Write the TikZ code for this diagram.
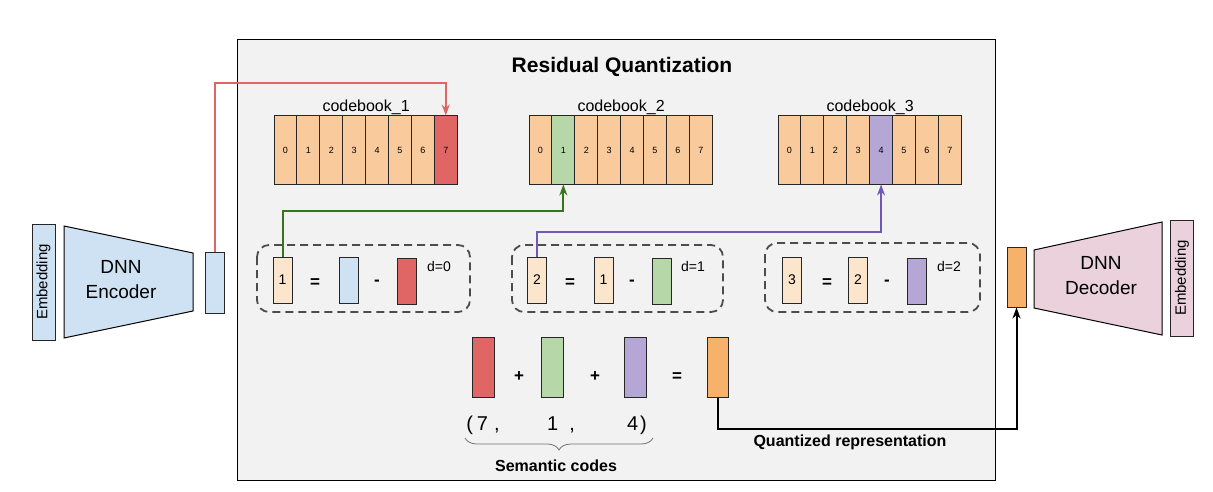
\documentclass[tikz,border=0pt]{standalone}
\usepackage{fontspec}
\setmainfont{Liberation Sans}
\usetikzlibrary{arrows.meta,positioning,calc,decorations.pathreplacing}

\definecolor{cbpeach}{HTML}{F9CB9C}
\definecolor{respeach}{HTML}{FCE5CD}
\definecolor{embblue}{HTML}{CFE2F3}
\definecolor{codered}{HTML}{E06666}
\definecolor{codegreen}{HTML}{B6D7A8}
\definecolor{codepurple}{HTML}{B4A7D6}
\definecolor{qorange}{HTML}{F6B26B}
\definecolor{decpink}{HTML}{EAD1DC}
\definecolor{panelgray}{HTML}{F2F2F2}
\definecolor{redwire}{HTML}{E06666}
\definecolor{greenwire}{HTML}{38761D}
\definecolor{purplewire}{HTML}{7058B8}

\begin{document}
\begin{tikzpicture}[x=1pt,y=-1pt,
    cell/.style={draw=black!85, line width=1pt, fill=cbpeach, minimum width=22.9pt,
        minimum height=68pt, inner sep=0pt, font=\fontsize{9}{9}\selectfont},
    vec/.style={draw=black!85, line width=1pt, minimum width=19pt, minimum height=46pt,
        inner sep=0pt, font=\fontsize{14}{14}\selectfont},
    bigvec/.style={vec, minimum width=22pt, minimum height=60pt},
    sym/.style={inner sep=0pt, font=\fontsize{17}{17}\selectfont\bfseries},
    dlabel/.style={inner sep=0pt, font=\fontsize{14}{14}\selectfont},
    dashbox/.style={draw=black!70, line width=1.8pt, dash pattern=on 8pt off 5pt, rounded corners=12pt},
    embbar/.style={draw=black!85, line width=1pt, minimum width=116pt, minimum height=23pt,
        inner sep=0pt, rotate=90, font=\fontsize{15}{15}\selectfont},
    wire/.style={line width=2pt, -{Stealth[length=11pt,width=8pt]}},
    codes/.style={inner sep=0pt, anchor=base, font=\fontsize{20}{20}\selectfont},
  ]
    \useasboundingbox (0,0) rectangle (1213,492);

    % Quantization panel
    \draw[fill=panelgray, line width=1pt] (237,40) rectangle (995,480);
    \node[font=\fontsize{21}{21}\selectfont\bfseries] (title) at (622,67) {Residual Quantization};

    % Codebooks
    \foreach \k/\x/\hi/\hc in {1/274/7/codered, 2/529/1/codegreen, 3/778/4/codepurple}{
        \foreach \i in {0,...,7}{
            \ifnum\i=\hi \def\cf{\hc}\else\def\cf{cbpeach}\fi
            \node[cell, fill=\cf] (cb\k-\i) at ({\x+11.45+22.9*\i},150) {\i};
        }
        \node[anchor=base, inner sep=0pt, font=\fontsize{16}{16}\selectfont] (cblab\k)
            at ($(cb\k-3.north east)+(0,-4)$) {codebook\_\k};
    }

    % Encoder side
    \node[embbar, fill=embblue] (embin) at (43.5,282) {Embedding};
    \draw[fill=embblue, line width=1pt] (64,226) -- (193,253) -- (193,311) -- (64,338) -- cycle;
    \node[align=center, font=\fontsize{19}{25}\selectfont] (enc) at (121,280) {DNN\\Encoder};
    \node[vec, fill=embblue, minimum height=61pt] (encout) at (214.5,282.5) {};

    % Residuals
    \draw[dashbox] (257,245) rectangle (470,312);
    \node[vec, fill=respeach] (res1) at (282.5,280) {1};
    \node[sym] (eq1) at (315,283) {=};
    \node[vec, fill=embblue] (emb1) at (349,280) {};
    \node[sym] (mi1) at (377,283) {-};
    \node[vec, fill=codered] (sel1) at (407,281) {};
    \node[dlabel] (d0) at (439,266) {d=0};

    \draw[dashbox] (512,245) rectangle (723,312);
    \node[vec, fill=respeach] (res2) at (537,280) {2};
    \node[sym] (eq2) at (570,283) {=};
    \node[vec, fill=respeach] (res1b) at (603.5,280) {1};
    \node[sym] (mi2) at (632,283) {-};
    \node[vec, fill=codegreen] (sel2) at (662,281) {};
    \node[dlabel] (d1) at (693,266) {d=1};

    \draw[dashbox] (765,243) rectangle (980,312);
    \node[vec, fill=respeach] (res3) at (792,280) {3};
    \node[sym] (eq3) at (827,283) {=};
    \node[vec, fill=respeach] (res2b) at (858,280) {2};
    \node[sym] (mi3) at (887,283) {-};
    \node[vec, fill=codepurple] (sel3) at (916.5,281) {};
    \node[dlabel] (d2) at (949,266) {d=2};

    % Lookups
    \draw[wire, redwire] (encout.north) -- ++(0,-168) -| (cb1-7.north);
    \draw[wire, greenwire] (res1.north) -- ++(0,-46) -| (cb2-1.south);
    \draw[wire, purplewire] (res2.north) -- ++(0,-25) -| (cb3-4.south);

    % Sum of codewords
    \node[bigvec, fill=codered] (q1) at (483,367) {};
    \node[sym] (pl1) at (519,377) {+};
    \node[bigvec, fill=codegreen] (q2) at (552,367) {};
    \node[sym] (pl2) at (595,377) {+};
    \node[bigvec, fill=codepurple] (q3) at (635,367) {};
    \node[sym] (eq4) at (677,377) {=};
    \node[bigvec, fill=qorange, minimum width=21pt] (qout) at (717.5,367) {};

    \node[codes] (code1) at (483,430) {(\hspace{4pt}7\hspace{6pt},};
    \node[codes] (code2) at (561,430) {1\hspace{11pt},};
    \node[codes] (code3) at (637,430) {4\hspace{2pt})};
    \draw[black!55, line width=0.8pt, decorate, decoration={brace, amplitude=12pt, mirror}]
        (465,438) -- (653,438);
    \node[font=\fontsize{16}{16}\selectfont\bfseries] (sem) at (556,466) {Semantic codes};

    % Decoder side
    \node[vec, fill=qorange, minimum height=60pt] (decin) at (1016.5,277) {};
    \draw[wire, black] (qout.south) -- ++(0,31) -| (decin.south);
    \node[font=\fontsize{16}{16}\selectfont\bfseries] (qlab) at (850,442) {Quantized representation};
    \draw[fill=decpink, line width=1pt] (1034,250) -- (1162,222) -- (1162,335) -- (1034,308) -- cycle;
    \node[align=center, font=\fontsize{19}{25}\selectfont] (dec) at (1101,276) {DNN\\Decoder};
    \node[embbar, fill=decpink] (embout) at (1182,278) {Embedding};
\end{tikzpicture}
\end{document}
